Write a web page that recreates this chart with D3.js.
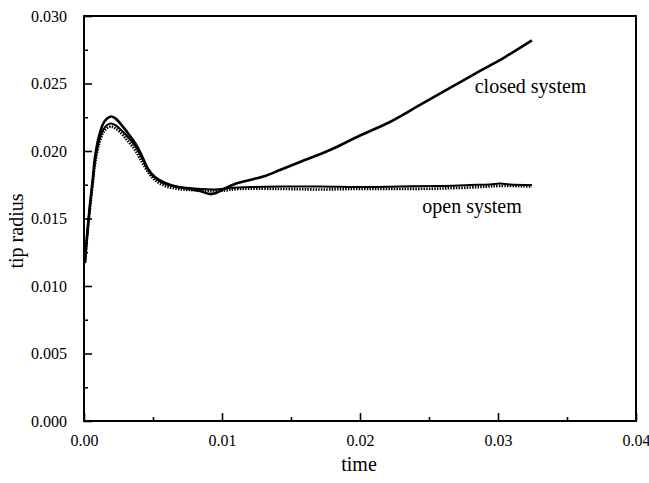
<!DOCTYPE html>
<html><head><meta charset="utf-8">
<script src="https://cdn.jsdelivr.net/npm/d3@7/dist/d3.min.js"></script>
<style>body{margin:0;background:#fff}</style>
</head><body>
<svg id="c" width="649" height="483"></svg>
<script>
// Data
const closedT = [0.00007,0.00022,0.00043,0.00065,0.00080,0.00109,0.00138,0.00167,0.00196,0.00225,0.00261,0.00312,0.00370,0.00420,0.00464,0.00514,0.00587,0.00681,0.00768,0.00841,0.00913,0.00957,0.01014,0.01094,0.01203,0.01312,0.01420,0.01565,0.01783,0.02000,0.02217,0.02435,0.02652,0.02870,0.03051,0.03246];
const closedR = [0.01178,0.01370,0.01600,0.01807,0.01956,0.02111,0.02200,0.02241,0.02256,0.02244,0.02207,0.02141,0.02059,0.01963,0.01867,0.01807,0.01763,0.01733,0.01719,0.01704,0.01681,0.01689,0.01719,0.01756,0.01785,0.01815,0.01859,0.01919,0.02007,0.02115,0.02215,0.02341,0.02467,0.02593,0.02696,0.02819];
const openT = [0.00007,0.00022,0.00043,0.00065,0.00080,0.00109,0.00138,0.00167,0.00196,0.00225,0.00261,0.00312,0.00370,0.00420,0.00464,0.00514,0.00587,0.00681,0.00768,0.00841,0.00949,0.01058,0.01203,0.01420,0.01710,0.02000,0.02290,0.02580,0.02797,0.02942,0.03014,0.03087,0.03246];
const openR = [0.01178,0.01370,0.01590,0.01793,0.01926,0.02074,0.02156,0.02193,0.02204,0.02193,0.02163,0.02111,0.02037,0.01948,0.01859,0.01800,0.01756,0.01733,0.01726,0.01719,0.01715,0.01726,0.01733,0.01737,0.01737,0.01733,0.01737,0.01741,0.01748,0.01752,0.01759,0.01752,0.01748];
const dotT = [0.00007,0.00022,0.00043,0.00065,0.00080,0.00109,0.00138,0.00167,0.00196,0.00225,0.00261,0.00312,0.00370,0.00420,0.00464,0.00514,0.00587,0.00681,0.00768,0.00877,0.00986,0.01130,0.01420,0.01710,0.02000,0.02290,0.02580,0.02870,0.03014,0.03246];
const dotR = [0.01170,0.01356,0.01570,0.01770,0.01904,0.02052,0.02133,0.02170,0.02181,0.02170,0.02141,0.02081,0.02007,0.01919,0.01844,0.01785,0.01741,0.01719,0.01711,0.01704,0.01704,0.01719,0.01719,0.01715,0.01719,0.01719,0.01722,0.01733,0.01741,0.01737];
const xTicks = [0.00,0.01,0.02,0.03,0.04];
const xTickLabels = ["0.00","0.01","0.02","0.03","0.04"];
const yTicks = [0.000,0.005,0.010,0.015,0.020,0.025,0.030];
const yTickLabels = ["0.000","0.005","0.010","0.015","0.020","0.025","0.030"];
const xMinor = [0.005,0.015,0.025,0.035];
const yMinor = [0.0025,0.0075,0.0125,0.0175,0.0225,0.0275];
const labels = [{text:"closed system", t:0.03236, r:0.02430},{text:"open system", t:0.02812, r:0.01541}];

const svg = d3.select("#c");
const L=84, R=636, T=16, B=421;
const x = d3.scaleLinear().domain([0,0.04]).range([L,R]);
const y = d3.scaleLinear().domain([0,0.03]).range([B,T]);
const font = "'Liberation Serif','Times New Roman',serif";

// frame
svg.append("rect").attr("x",L).attr("y",T).attr("width",R-L).attr("height",B-T)
  .attr("fill","none").attr("stroke","#000").attr("stroke-width",2);

// x axis
const xAxis = d3.axisBottom(x).tickValues(xTicks).tickFormat((d,i)=>xTickLabels[i]).tickSizeInner(-8).tickSizeOuter(0).tickPadding(14);
const gx = svg.append("g").attr("transform",`translate(0,${B})`).call(xAxis);
gx.select(".domain").remove();
gx.selectAll("line").attr("stroke-width",1.6);
gx.selectAll("text").attr("font-family",font).attr("font-size",16).attr("fill","#000");
const gxm = svg.append("g").attr("transform",`translate(0,${B})`).call(d3.axisBottom(x).tickValues(xMinor).tickFormat("").tickSizeInner(-4).tickSizeOuter(0));
gxm.select(".domain").remove(); gxm.selectAll("line").attr("stroke-width",1.6);

// y axis
const yAxis = d3.axisLeft(y).tickValues(yTicks).tickFormat((d,i)=>yTickLabels[i]).tickSizeInner(-8).tickSizeOuter(0).tickPadding(17);
const gy = svg.append("g").attr("transform",`translate(${L},0)`).call(yAxis);
gy.select(".domain").remove();
gy.selectAll("line").attr("stroke-width",1.6);
gy.selectAll("text").attr("font-family",font).attr("font-size",16).attr("fill","#000");
const gym = svg.append("g").attr("transform",`translate(${L},0)`).call(d3.axisLeft(y).tickValues(yMinor).tickFormat("").tickSizeInner(-4).tickSizeOuter(0));
gym.select(".domain").remove(); gym.selectAll("line").attr("stroke-width",1.6);

// titles
svg.append("text").attr("x",359).attr("y",471).attr("text-anchor","middle")
  .attr("font-family",font).attr("font-size",20).text("time");
svg.append("text").attr("transform","translate(23,231) rotate(-90)").attr("text-anchor","middle")
  .attr("font-family",font).attr("font-size",20).text("tip radius");

// curves
const line = d3.line().x(d=>x(d[0])).y(d=>y(d[1])).curve(d3.curveCatmullRom);
const z = (a,b)=>a.map((v,i)=>[v,b[i]]);
svg.append("path").datum(z(dotT,dotR)).attr("d",line).attr("fill","none")
  .attr("stroke","#000").attr("stroke-width",2.6).attr("stroke-dasharray","1.5,1.2");
svg.append("path").datum(z(openT,openR)).attr("d",line).attr("fill","none")
  .attr("stroke","#000").attr("stroke-width",2);
svg.append("path").datum(z(closedT,closedR)).attr("d",line).attr("fill","none")
  .attr("stroke","#000").attr("stroke-width",2.6);

// curve labels
svg.selectAll(".lbl").data(labels).enter().append("text")
  .attr("x",d=>x(d.t)).attr("y",d=>y(d.r)).attr("text-anchor","middle")
  .attr("font-family",font).attr("font-size",20).text(d=>d.text);
</script>
</body></html>
